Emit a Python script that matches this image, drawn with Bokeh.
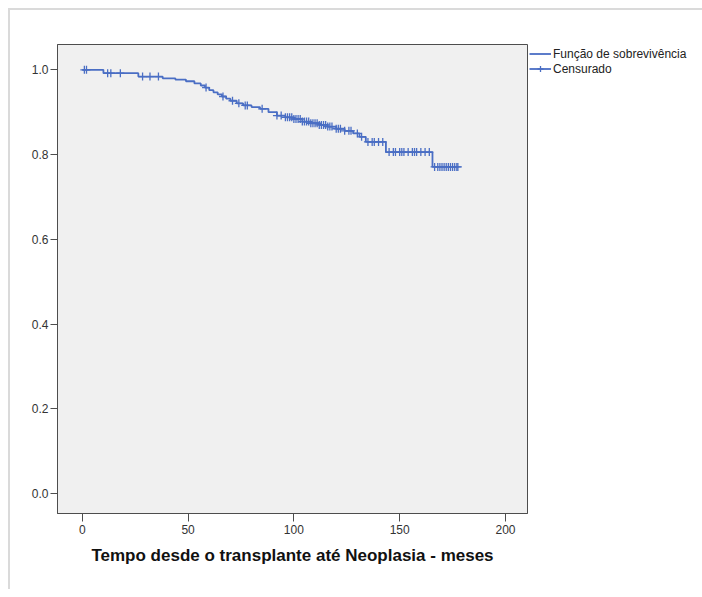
import numpy as np
from bokeh.plotting import figure
from bokeh.models import Range1d, FixedTicker, PrintfTickFormatter, Legend, LegendItem
from bokeh.embed import file_html
from bokeh.resources import INLINE

# Kaplan-Meier: event times (months) and survival after each event
event_times = [0, 10, 26.5, 38, 44, 49, 53, 56, 58, 60, 62, 64, 66, 68, 70, 73, 76,
               80, 84, 88, 92, 96, 100, 104, 108, 112, 116, 120, 124, 128, 131, 134,
               143.5, 165.5]
survival = [1.0, 0.992, 0.984, 0.980, 0.977, 0.973, 0.968, 0.963, 0.958, 0.952, 0.947,
            0.942, 0.937, 0.932, 0.927, 0.921, 0.916, 0.912, 0.908, 0.900, 0.892, 0.888,
            0.884, 0.878, 0.874, 0.870, 0.866, 0.861, 0.856, 0.850, 0.842, 0.830,
            0.806, 0.771]
end_time = 177.5
censor_times = [1, 2, 12, 13.5, 18, 28.5, 32, 36, 58.5, 66.5, 71, 74, 77, 78, 85, 92,
                94, 96, 97, 98, 99, 100, 101, 102, 103, 104, 105, 106, 107, 108, 109,
                110, 111, 112, 113, 114, 115, 116, 117, 118, 120, 121, 122, 124, 126,
                127, 130, 132, 135, 137, 138, 140, 142, 145, 147, 148, 150, 151, 152,
                154, 156, 157, 158, 160, 162, 164, 166.5, 168, 169, 170, 171, 172, 173,
                174, 175, 176, 177, 177.5]
x_ticks = [0, 50, 100, 150, 200]
y_ticks = [0.0, 0.2, 0.4, 0.6, 0.8, 1.0]

x_label = "Tempo desde o transplante até Neoplasia - meses"
label_surv = "Função de sobrevivência"
label_cens = "Censurado"

step_x = event_times + [end_time]
step_y = survival + [survival[-1]]
idx = np.searchsorted(np.array(event_times), np.array(censor_times), side="right") - 1
censor_s = np.array(survival)[idx]

BLUE = "#4a6ec4"
FONT = "Liberation Sans"

FRAME_W, FRAME_H = 470, 469
p = figure(frame_width=FRAME_W, frame_height=FRAME_H,
           x_range=Range1d(-11.7, 210.4), y_range=Range1d(-0.0465, 1.0597),
           output_backend="svg", toolbar_location=None,
           min_border_left=47, min_border_right=160, min_border_top=34, min_border_bottom=76)
p.styles = {"border-top": "2px solid #dadada", "border-left": "2px solid #dadada",
            "margin-top": "8px", "margin-left": "8px"}
p.background_fill_color = "#f0f0f0"
p.border_fill_color = "white"
p.outline_line_color = "#4d4d4d"
p.outline_line_width = 1
p.grid.visible = False

step_r = p.step(step_x, step_y, mode="after", line_color=BLUE, line_width=1.8)
cross_r = p.scatter(censor_times, censor_s, marker="cross", size=8,
                    line_color=BLUE, line_width=1.3)

for ax in (p.xaxis[0], p.yaxis[0]):
    ax.axis_line_color = "#4d4d4d"
    ax.major_tick_line_color = "#4d4d4d"
    ax.major_tick_line_width = 1
    ax.major_tick_in = 0
    ax.minor_tick_line_color = None
    ax.major_label_text_font = FONT
    ax.major_label_text_font_size = "12px"
    ax.major_label_text_color = "#333333"

p.xaxis.ticker = FixedTicker(ticks=x_ticks)
p.xaxis.major_tick_out = 8
p.xaxis.major_label_standoff = 3
p.xaxis.axis_label = x_label
p.xaxis.axis_label_text_font = FONT
p.xaxis.axis_label_text_font_style = "bold"
p.xaxis.axis_label_text_font_size = "17px"
p.xaxis.axis_label_text_color = "#111111"
p.xaxis.axis_label_standoff = 9

p.yaxis.ticker = FixedTicker(ticks=y_ticks)
p.yaxis.formatter = PrintfTickFormatter(format="%.1f")
p.yaxis.major_tick_out = 7
p.yaxis.major_label_standoff = 2

legend = Legend(items=[LegendItem(label=label_surv, renderers=[step_r]),
                       LegendItem(label=label_cens, renderers=[step_r, cross_r])],
                location="top_left", margin=2, padding=3, spacing=0,
                glyph_width=22, glyph_height=15, label_height=15, label_standoff=2,
                label_text_font=FONT, label_text_font_size="12px",
                label_text_color="#222222",
                border_line_color=None, background_fill_alpha=0)
p.add_layout(legend, "right")

open("out.html", "w").write(file_html(p, INLINE))
